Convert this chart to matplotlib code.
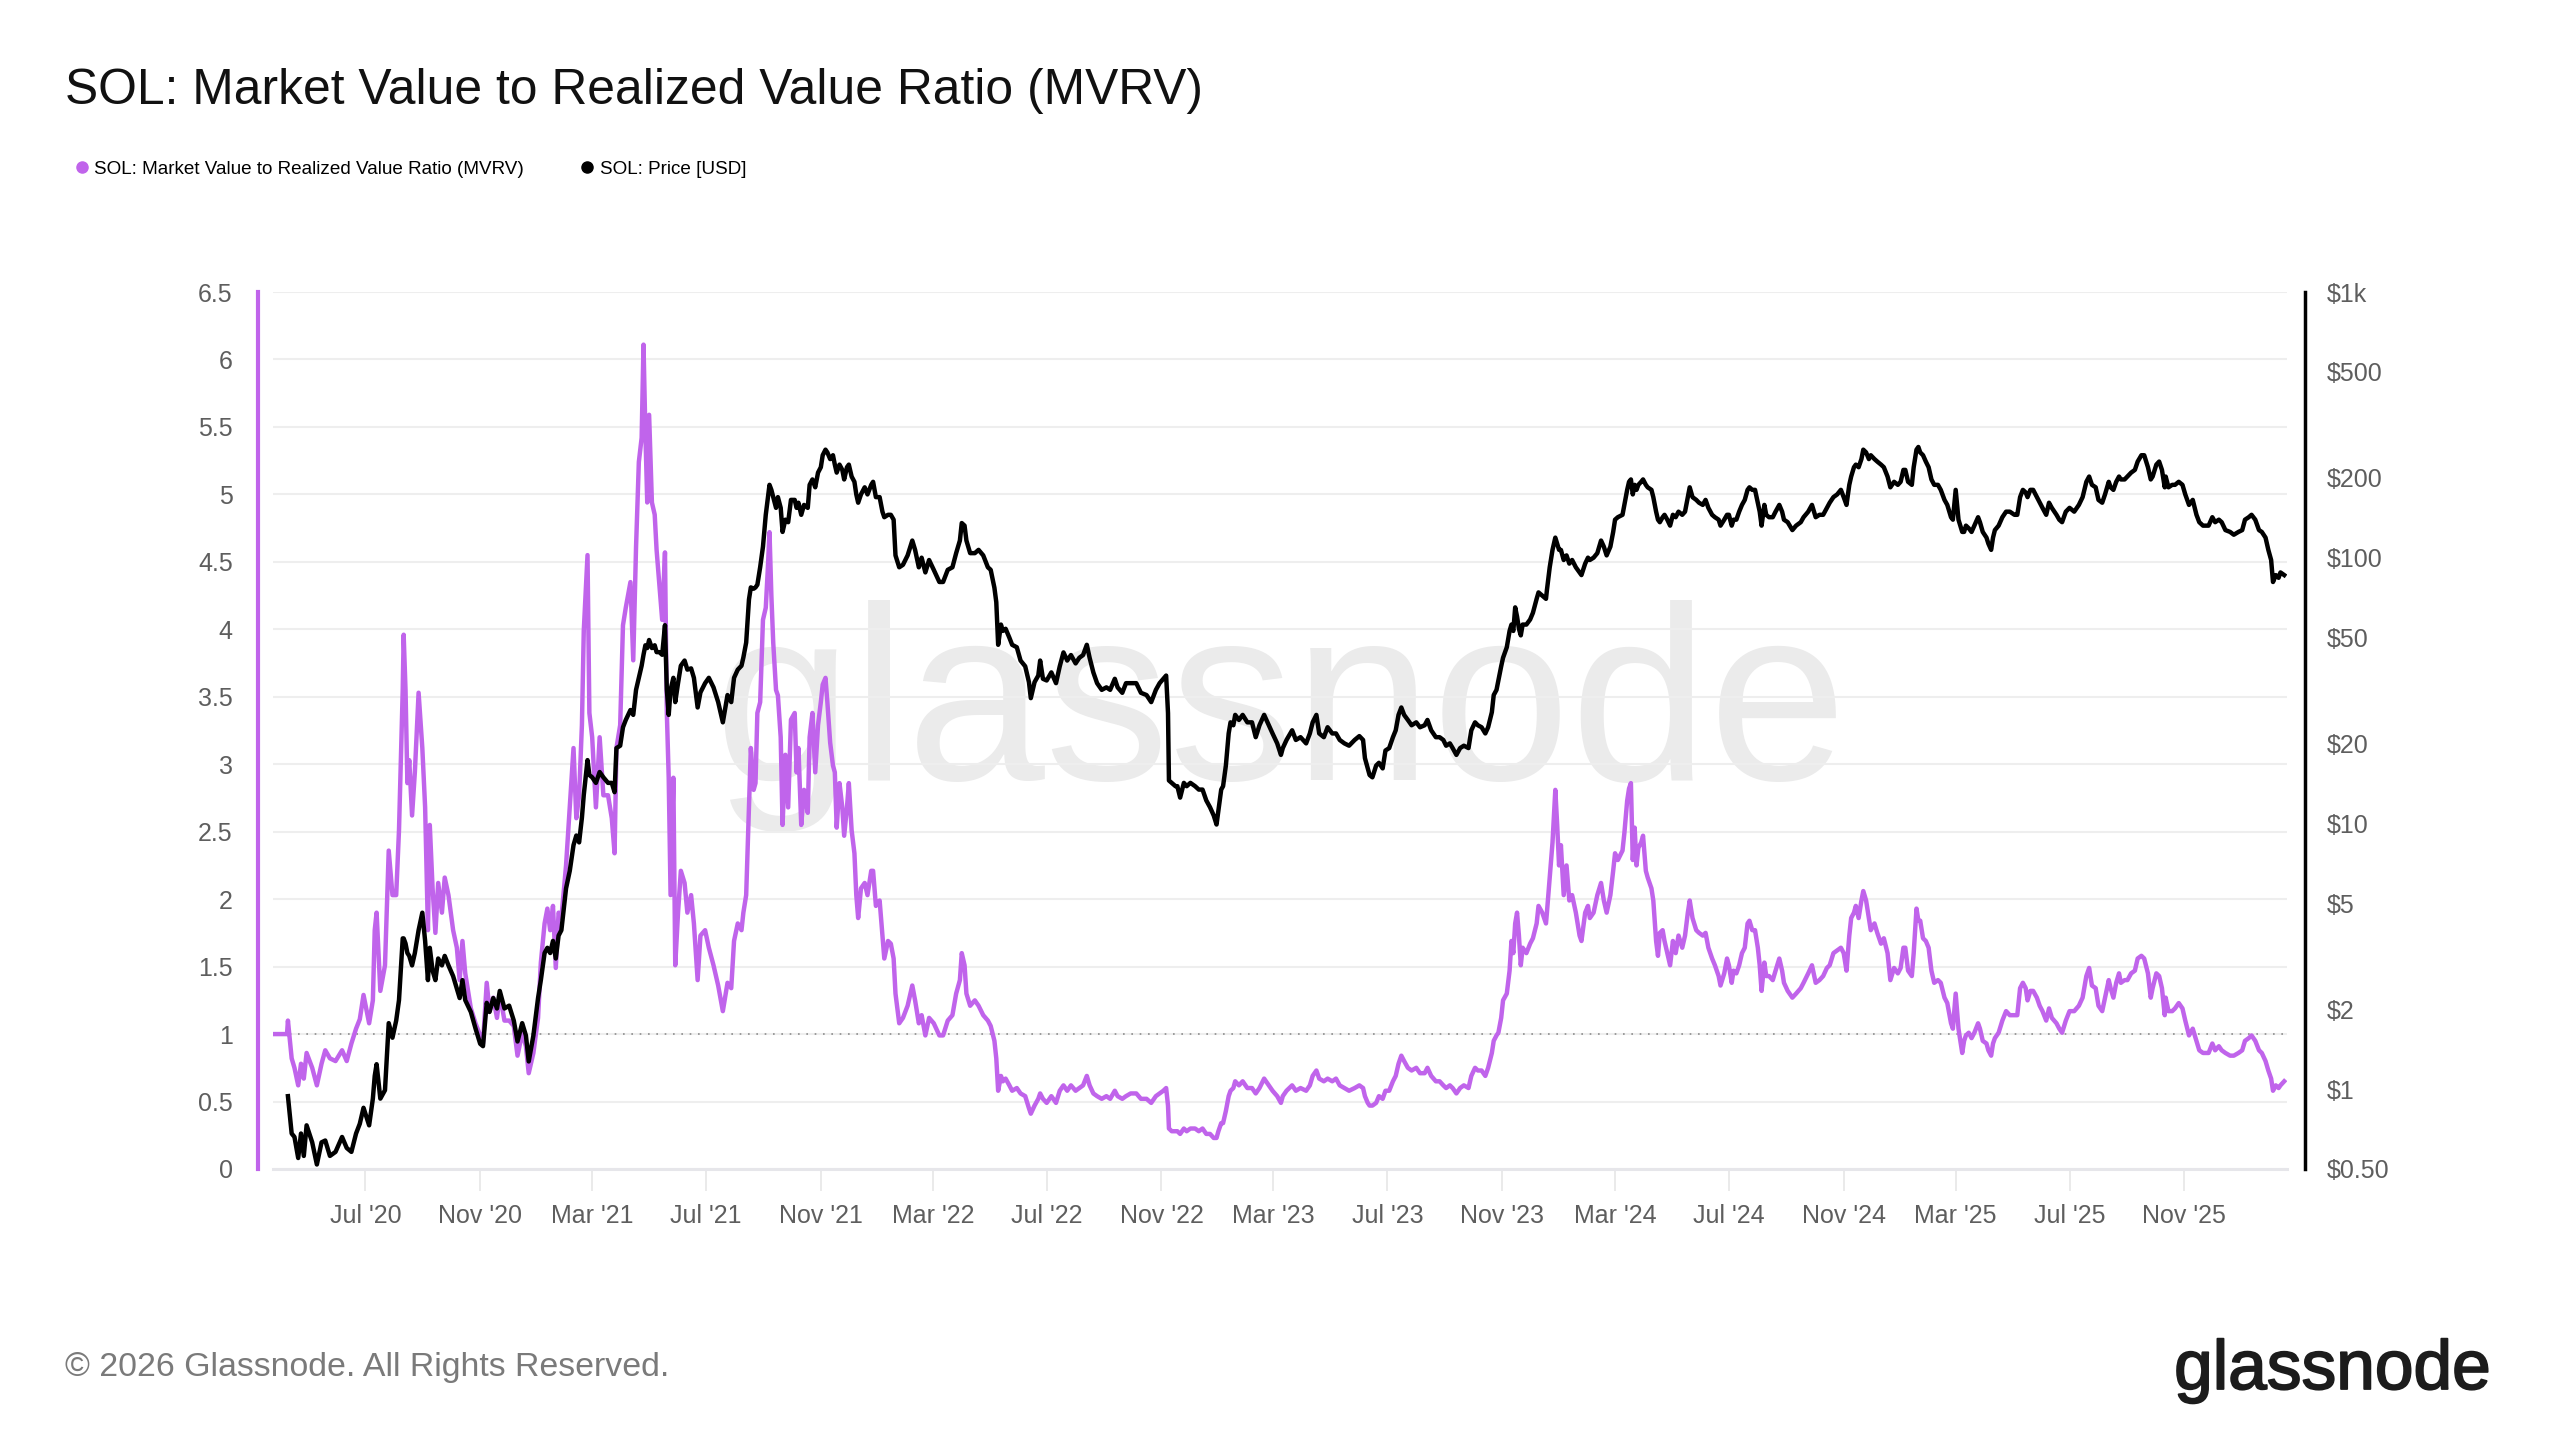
import matplotlib.pyplot as plt
import matplotlib.patheffects as pe
from matplotlib.lines import Line2D
from matplotlib.ticker import NullLocator
import numpy as np
import pandas as pd

plt.rcParams['font.family'] = ['Liberation Sans', 'DejaVu Sans']

nan = np.nan

# dates, MVRV and SOL price [USD], one chunk per year
dates_2020 = [
    "2020-03-24", "2020-04-08", "2020-04-09", "2020-04-13", "2020-04-16", "2020-04-20", "2020-04-23", "2020-04-26", "2020-04-29", "2020-05-05",
    "2020-05-10", "2020-05-15", "2020-05-19", "2020-05-24", "2020-05-30", "2020-06-06", "2020-06-11", "2020-06-16", "2020-06-21", "2020-06-25",
    "2020-06-29", "2020-07-05", "2020-07-09", "2020-07-11", "2020-07-13", "2020-07-17", "2020-07-22", "2020-07-26", "2020-07-30", "2020-08-03",
    "2020-08-06", "2020-08-10", "2020-08-11", "2020-08-13", "2020-08-15", "2020-08-17", "2020-08-20", "2020-08-23", "2020-08-27", "2020-08-31",
    "2020-09-03", "2020-09-06", "2020-09-08", "2020-09-11", "2020-09-14", "2020-09-17", "2020-09-21", "2020-09-24", "2020-09-28", "2020-10-03",
    "2020-10-07", "2020-10-10", "2020-10-13", "2020-10-16", "2020-10-22", "2020-10-27", "2020-11-01", "2020-11-04", "2020-11-08", "2020-11-11",
    "2020-11-15", "2020-11-19", "2020-11-22", "2020-11-27", "2020-12-02", "2020-12-07", "2020-12-11", "2020-12-16", "2020-12-20", "2020-12-23",
    "2020-12-28"]
mvrv_2020 = [
    1.00, 1.00, 1.10, 0.82, 0.75, 0.62, 0.78, 0.67, 0.86, 0.75,
    0.62, 0.78, 0.88, 0.82, 0.80, 0.88, 0.80, 0.93, 1.04, 1.11,
    1.29, 1.08, 1.25, 1.77, 1.90, 1.32, 1.51, 2.36, 2.03, 2.03,
    2.51, 3.55, 3.96, 3.55, 2.86, 3.03, 2.62, 2.94, 3.53, 3.12,
    2.68, 1.77, 2.55, 2.08, 1.75, 2.12, 1.90, 2.16, 2.03, 1.77,
    1.64, 1.40, 1.69, 1.45, 1.19, 1.08, 0.99, 0.93, 1.38, 1.17,
    1.27, 1.12, 1.30, 1.10, 1.10, 1.06, 0.84, 1.01, 0.91, 0.71,
    0.86]
price_2020 = [
    nan, nan, 0.94, 0.68, 0.66, 0.55, 0.68, 0.56, 0.73, 0.63,
    0.52, 0.63, 0.64, 0.56, 0.58, 0.66, 0.60, 0.58, 0.68, 0.74,
    0.85, 0.73, 0.92, 1.12, 1.24, 0.92, 0.99, 1.77, 1.56, 1.81,
    2.16, 3.69, 3.69, 3.53, 3.25, 3.17, 2.92, 3.25, 3.96, 4.61,
    3.61, 2.57, 3.40, 2.79, 2.57, 3.10, 2.92, 3.17, 2.92, 2.66,
    2.39, 2.20, 2.57, 2.16, 1.95, 1.69, 1.48, 1.45, 2.11, 1.95,
    2.20, 2.01, 2.34, 2.01, 2.06, 1.81, 1.51, 1.77, 1.59, 1.27,
    1.59]

dates_2021 = [
    "2021-01-02", "2021-01-05", "2021-01-09", "2021-01-12", "2021-01-15", "2021-01-18", "2021-01-21", "2021-01-24", "2021-01-27", "2021-02-01",
    "2021-02-05", "2021-02-09", "2021-02-12", "2021-02-15", "2021-02-18", "2021-02-20", "2021-02-24", "2021-02-26", "2021-03-01", "2021-03-05",
    "2021-03-09", "2021-03-13", "2021-03-18", "2021-03-22", "2021-03-25", "2021-03-27", "2021-03-31", "2021-04-03", "2021-04-06", "2021-04-11",
    "2021-04-14", "2021-04-17", "2021-04-20", "2021-04-23", "2021-04-25", "2021-04-27", "2021-04-29", "2021-05-01", "2021-05-04", "2021-05-07",
    "2021-05-09", "2021-05-12", "2021-05-15", "2021-05-18", "2021-05-20", "2021-05-22", "2021-05-24", "2021-05-27", "2021-05-29", "2021-06-01",
    "2021-06-04", "2021-06-08", "2021-06-11", "2021-06-15", "2021-06-18", "2021-06-22", "2021-06-25", "2021-06-30", "2021-07-04", "2021-07-09",
    "2021-07-14", "2021-07-19", "2021-07-24", "2021-07-28", "2021-07-31", "2021-08-04", "2021-08-08", "2021-08-10", "2021-08-13", "2021-08-16",
    "2021-08-18", "2021-08-21", "2021-08-23", "2021-08-25", "2021-08-28", "2021-08-31", "2021-09-03", "2021-09-05", "2021-09-07", "2021-09-09",
    "2021-09-11", "2021-09-14", "2021-09-16", "2021-09-19", "2021-09-21", "2021-09-24", "2021-09-27", "2021-09-30", "2021-10-04", "2021-10-06",
    "2021-10-08", "2021-10-11", "2021-10-14", "2021-10-18", "2021-10-20", "2021-10-23", "2021-10-26", "2021-10-29", "2021-11-01", "2021-11-03",
    "2021-11-06", "2021-11-08", "2021-11-11", "2021-11-14", "2021-11-16", "2021-11-18", "2021-11-21", "2021-11-24", "2021-11-26", "2021-11-29",
    "2021-12-01", "2021-12-04", "2021-12-07", "2021-12-09", "2021-12-11", "2021-12-14", "2021-12-18", "2021-12-21", "2021-12-25", "2021-12-27",
    "2021-12-30"]
mvrv_2021 = [
    1.12, 1.53, 1.82, 1.93, 1.77, 1.95, 1.49, 1.90, 1.86, 2.25,
    2.68, 3.12, 2.60, 2.77, 3.29, 3.99, 4.55, 3.38, 3.20, 2.68,
    3.20, 2.77, 2.77, 2.60, 2.34, 3.12, 3.29, 4.03, 4.16, 4.35,
    3.77, 4.61, 5.24, 5.42, 6.11, 5.46, 4.94, 5.59, 4.94, 4.85,
    4.59, 4.33, 4.07, 4.57, 3.38, 2.90, 2.03, 2.90, 1.51, 1.90,
    2.21, 2.12, 1.90, 2.03, 1.82, 1.40, 1.73, 1.77, 1.64, 1.51,
    1.36, 1.17, 1.38, 1.34, 1.69, 1.82, 1.77, 1.90, 2.03, 2.68,
    3.12, 2.81, 2.86, 3.38, 3.46, 4.07, 4.16, 4.42, 4.72, 4.25,
    3.90, 3.55, 3.51, 3.20, 2.55, 3.07, 2.68, 3.33, 3.38, 2.94,
    3.12, 2.55, 2.81, 2.64, 3.20, 3.38, 2.94, 3.29, 3.46, 3.59,
    3.64, 3.46, 3.16, 2.99, 2.94, 2.53, 2.86, 2.68, 2.47, 2.68,
    2.86, 2.51, 2.34, 2.03, 1.86, 2.08, 2.12, 2.03, 2.21, 2.21,
    1.95]
price_2021 = [
    2.20, 2.57, 3.25, 3.40, 3.25, 3.61, 3.10, 3.78, 3.96, 5.69,
    6.63, 8.28, 9.00, 8.48, 10.5, 12.8, 17.3, 15.2, 14.9, 14.2,
    15.6, 14.9, 14.2, 14.2, 13.1, 19.2, 19.6, 23.0, 24.5, 26.7,
    25.6, 31.8, 35.3, 39.2, 43.1, 46.8, 45.7, 49.0, 45.7, 46.8,
    44.1, 44.1, 43.1, 55.7, 31.8, 25.6, 31.8, 35.3, 28.6, 33.7,
    39.2, 41.0, 37.9, 38.3, 35.3, 27.3, 31.1, 33.7, 35.3, 32.5,
    28.6, 24.0, 30.4, 28.6, 35.3, 37.9, 39.2, 42.1, 47.9, 69.6,
    77.3, 76.4, 77.3, 79.1, 92.1, 110, 145, 165, 188, 180,
    169, 154, 169, 154, 125, 139, 136, 165, 165, 154,
    161, 145, 158, 154, 188, 197, 184, 209, 219, 243,
    255, 249, 235, 243, 224, 209, 224, 214, 197, 219,
    224, 202, 193, 173, 161, 173, 184, 173, 188, 193,
    169]

dates_2022 = [
    "2022-01-03", "2022-01-06", "2022-01-08", "2022-01-12", "2022-01-15", "2022-01-18", "2022-01-20", "2022-01-24", "2022-01-28", "2022-02-02",
    "2022-02-07", "2022-02-10", "2022-02-14", "2022-02-17", "2022-02-21", "2022-02-25", "2022-03-02", "2022-03-08", "2022-03-12", "2022-03-17",
    "2022-03-22", "2022-03-26", "2022-03-30", "2022-04-01", "2022-04-04", "2022-04-06", "2022-04-10", "2022-04-15", "2022-04-19", "2022-04-24",
    "2022-04-29", "2022-05-02", "2022-05-06", "2022-05-08", "2022-05-10", "2022-05-13", "2022-05-15", "2022-05-18", "2022-05-22", "2022-05-25",
    "2022-05-30", "2022-06-03", "2022-06-08", "2022-06-12", "2022-06-14", "2022-06-18", "2022-06-22", "2022-06-24", "2022-06-27", "2022-07-01",
    "2022-07-06", "2022-07-11", "2022-07-15", "2022-07-19", "2022-07-23", "2022-07-27", "2022-08-01", "2022-08-05", "2022-08-09", "2022-08-13",
    "2022-08-16", "2022-08-20", "2022-08-24", "2022-08-29", "2022-09-03", "2022-09-07", "2022-09-12", "2022-09-15", "2022-09-20", "2022-09-24",
    "2022-09-29", "2022-10-05", "2022-10-10", "2022-10-16", "2022-10-21", "2022-10-26", "2022-10-30", "2022-11-03", "2022-11-06", "2022-11-08",
    "2022-11-09", "2022-11-12", "2022-11-16", "2022-11-18", "2022-11-21", "2022-11-25", "2022-11-28", "2022-12-02", "2022-12-07", "2022-12-11",
    "2022-12-15", "2022-12-19", "2022-12-23", "2022-12-27", "2022-12-30"]
mvrv_2022 = [
    1.99, 1.73, 1.56, 1.69, 1.67, 1.56, 1.30, 1.08, 1.12, 1.21,
    1.36, 1.25, 1.08, 1.14, 0.99, 1.12, 1.08, 0.99, 0.99, 1.10,
    1.14, 1.30, 1.40, 1.60, 1.51, 1.30, 1.21, 1.25, 1.21, 1.14,
    1.10, 1.06, 0.95, 0.82, 0.58, 0.69, 0.65, 0.67, 0.62, 0.58,
    0.60, 0.56, 0.54, 0.45, 0.41, 0.47, 0.52, 0.56, 0.52, 0.49,
    0.54, 0.49, 0.58, 0.62, 0.58, 0.62, 0.58, 0.60, 0.62, 0.69,
    0.62, 0.56, 0.54, 0.52, 0.54, 0.52, 0.58, 0.54, 0.52, 0.54,
    0.56, 0.56, 0.52, 0.52, 0.49, 0.54, 0.56, 0.58, 0.60, 0.47,
    0.30, 0.28, 0.28, 0.28, 0.26, 0.30, 0.28, 0.30, 0.30, 0.28,
    0.30, 0.26, 0.26, 0.23, 0.23]
price_2022 = [
    169, 149, 142, 145, 145, 139, 102, 92, 94, 102,
    116, 107, 92, 100, 88, 98, 90, 81, 81, 90,
    92, 104, 116, 135, 132, 116, 104, 104, 107, 102,
    92, 90, 77, 68, 47, 56, 53, 54, 50, 47,
    46, 41, 39, 34, 29.6, 34, 36, 41, 35, 34.5,
    37, 33.7, 39, 44, 41, 43, 40, 42, 43, 47,
    42, 37, 33.7, 31.8, 32.5, 31.8, 35, 32.5, 31, 33.7,
    33.7, 33.7, 31, 30.4, 28.6, 31.8, 33.7, 35, 36, 26,
    14.5, 14.2, 13.8, 13.8, 12.5, 14.2, 13.8, 14.2, 13.8, 13.4,
    13.4, 12.2, 11.5, 10.7, 9.9]

dates_2023 = [
    "2023-01-01", "2023-01-04", "2023-01-06", "2023-01-09", "2023-01-12", "2023-01-14", "2023-01-17", "2023-01-19", "2023-01-23", "2023-01-27",
    "2023-02-01", "2023-02-06", "2023-02-10", "2023-02-14", "2023-02-19", "2023-02-24", "2023-02-28", "2023-03-05", "2023-03-09", "2023-03-11",
    "2023-03-15", "2023-03-21", "2023-03-25", "2023-03-30", "2023-04-05", "2023-04-09", "2023-04-12", "2023-04-16", "2023-04-19", "2023-04-24",
    "2023-04-28", "2023-05-03", "2023-05-07", "2023-05-11", "2023-05-16", "2023-05-21", "2023-05-27", "2023-06-01", "2023-06-05", "2023-06-07",
    "2023-06-10", "2023-06-12", "2023-06-15", "2023-06-19", "2023-06-22", "2023-06-26", "2023-06-29", "2023-07-03", "2023-07-07", "2023-07-10",
    "2023-07-13", "2023-07-16", "2023-07-19", "2023-07-23", "2023-07-27", "2023-08-01", "2023-08-05", "2023-08-10", "2023-08-13", "2023-08-17",
    "2023-08-22", "2023-08-26", "2023-08-30", "2023-09-02", "2023-09-06", "2023-09-09", "2023-09-13", "2023-09-17", "2023-09-21", "2023-09-26",
    "2023-09-29", "2023-10-03", "2023-10-06", "2023-10-10", "2023-10-14", "2023-10-17", "2023-10-21", "2023-10-23", "2023-10-26", "2023-10-28",
    "2023-10-31", "2023-11-02", "2023-11-06", "2023-11-09", "2023-11-11", "2023-11-13", "2023-11-15", "2023-11-17", "2023-11-19", "2023-11-21",
    "2023-11-23", "2023-11-27", "2023-12-01", "2023-12-04", "2023-12-08", "2023-12-10", "2023-12-14", "2023-12-18", "2023-12-19", "2023-12-22",
    "2023-12-25", "2023-12-28", "2023-12-30"]
mvrv_2023 = [
    0.28, 0.34, 0.34, 0.43, 0.54, 0.58, 0.60, 0.65, 0.62, 0.65,
    0.60, 0.60, 0.56, 0.60, 0.67, 0.62, 0.58, 0.54, 0.49, 0.54,
    0.58, 0.62, 0.58, 0.60, 0.58, 0.62, 0.69, 0.73, 0.67, 0.65,
    0.67, 0.65, 0.67, 0.62, 0.60, 0.58, 0.60, 0.62, 0.60, 0.54,
    0.49, 0.47, 0.47, 0.49, 0.54, 0.52, 0.58, 0.58, 0.65, 0.69,
    0.78, 0.84, 0.80, 0.75, 0.73, 0.75, 0.71, 0.71, 0.75, 0.69,
    0.65, 0.65, 0.62, 0.60, 0.62, 0.60, 0.56, 0.60, 0.62, 0.60,
    0.69, 0.75, 0.73, 0.73, 0.69, 0.75, 0.86, 0.95, 0.99, 1.01,
    1.12, 1.25, 1.30, 1.47, 1.69, 1.60, 1.82, 1.90, 1.73, 1.51,
    1.64, 1.60, 1.67, 1.71, 1.82, 1.95, 1.90, 1.82, 1.90, 2.16,
    2.42, 2.81, 2.55]
price_2023 = [
    11.2, 13.4, 13.8, 16.5, 21.8, 24.0, 23.4, 25.6, 24.5, 25.6,
    24.0, 24.0, 21.1, 23.4, 25.6, 23.4, 21.8, 20.0, 18.1, 19.2,
    20.6, 22.4, 20.6, 21.1, 20.0, 21.8, 24.0, 25.6, 21.8, 21.1,
    23.0, 21.8, 21.8, 20.6, 20.0, 19.6, 20.6, 21.3, 20.6, 17.6,
    16.1, 15.2, 14.9, 16.5, 16.9, 16.1, 18.8, 19.2, 21.1, 22.4,
    25.6, 27.3, 25.6, 24.5, 23.4, 24.0, 23.0, 23.4, 24.5, 22.4,
    21.1, 21.1, 20.6, 19.6, 20.0, 19.2, 18.1, 19.2, 19.6, 19.2,
    22.4, 24.0, 23.4, 23.0, 21.8, 23.0, 26.2, 30.4, 31.8, 34.5,
    39.0, 42.0, 46.0, 53.0, 56.0, 53.0, 65.0, 60.0, 54.0, 51.0,
    56.0, 56.0, 58.5, 62.0, 70.0, 74.0, 72.0, 70.0, 75.5, 92.0,
    107, 119, 113]

dates_2024 = [
    "2024-01-01", "2024-01-03", "2024-01-06", "2024-01-09", "2024-01-12", "2024-01-15", "2024-01-19", "2024-01-23", "2024-01-25", "2024-01-29",
    "2024-02-01", "2024-02-03", "2024-02-07", "2024-02-11", "2024-02-15", "2024-02-18", "2024-02-21", "2024-02-25", "2024-02-28", "2024-03-01",
    "2024-03-04", "2024-03-09", "2024-03-11", "2024-03-14", "2024-03-16", "2024-03-18", "2024-03-20", "2024-03-22", "2024-03-24", "2024-03-26",
    "2024-03-29", "2024-03-31", "2024-04-03", "2024-04-05", "2024-04-09", "2024-04-11", "2024-04-14", "2024-04-16", "2024-04-18", "2024-04-21",
    "2024-04-23", "2024-04-26", "2024-04-29", "2024-05-02", "2024-05-05", "2024-05-08", "2024-05-12", "2024-05-15", "2024-05-18", "2024-05-20",
    "2024-05-23", "2024-05-27", "2024-05-30", "2024-06-03", "2024-06-06", "2024-06-09", "2024-06-13", "2024-06-16", "2024-06-20", "2024-06-22",
    "2024-06-26", "2024-06-29", "2024-07-01", "2024-07-04", "2024-07-06", "2024-07-09", "2024-07-12", "2024-07-15", "2024-07-18", "2024-07-21",
    "2024-07-23", "2024-07-26", "2024-07-29", "2024-08-01", "2024-08-03", "2024-08-05", "2024-08-08", "2024-08-10", "2024-08-13", "2024-08-17",
    "2024-08-20", "2024-08-24", "2024-08-27", "2024-08-29", "2024-09-02", "2024-09-07", "2024-09-11", "2024-09-16", "2024-09-19", "2024-09-24",
    "2024-09-28", "2024-10-02", "2024-10-06", "2024-10-10", "2024-10-14", "2024-10-17", "2024-10-21", "2024-10-25", "2024-10-29", "2024-11-01",
    "2024-11-04", "2024-11-07", "2024-11-09", "2024-11-12", "2024-11-14", "2024-11-17", "2024-11-20", "2024-11-22", "2024-11-25", "2024-11-28",
    "2024-11-30", "2024-12-04", "2024-12-07", "2024-12-11", "2024-12-14", "2024-12-18", "2024-12-21", "2024-12-25", "2024-12-29"]
mvrv_2024 = [
    2.25, 2.40, 2.03, 2.25, 1.99, 2.03, 1.90, 1.73, 1.69, 1.90,
    1.95, 1.86, 1.90, 2.03, 2.12, 1.99, 1.90, 2.03, 2.21, 2.34,
    2.29, 2.36, 2.49, 2.73, 2.82, 2.86, 2.29, 2.53, 2.25, 2.38,
    2.42, 2.47, 2.21, 2.16, 2.08, 1.99, 1.69, 1.58, 1.75, 1.77,
    1.69, 1.60, 1.51, 1.69, 1.60, 1.73, 1.64, 1.73, 1.90, 1.99,
    1.86, 1.77, 1.75, 1.73, 1.75, 1.64, 1.56, 1.51, 1.43, 1.36,
    1.45, 1.56, 1.51, 1.38, 1.47, 1.45, 1.51, 1.60, 1.64, 1.82,
    1.84, 1.77, 1.77, 1.64, 1.51, 1.32, 1.53, 1.43, 1.43, 1.40,
    1.47, 1.56, 1.47, 1.38, 1.32, 1.27, 1.30, 1.34, 1.38, 1.45,
    1.51, 1.38, 1.40, 1.43, 1.49, 1.51, 1.60, 1.62, 1.64, 1.60,
    1.47, 1.73, 1.86, 1.90, 1.95, 1.86, 1.99, 2.06, 1.99, 1.86,
    1.77, 1.82, 1.75, 1.67, 1.71, 1.60, 1.40, 1.49, 1.45]
price_2024 = [
    107, 107, 98, 102, 95, 98, 92, 88, 86, 95,
    100, 98, 100, 104, 116, 110, 102, 110, 125, 139,
    142, 145, 158, 180, 193, 197, 173, 188, 180, 188,
    193, 197, 188, 184, 180, 169, 149, 139, 136, 142,
    145, 139, 132, 145, 142, 149, 145, 149, 169, 184,
    169, 165, 161, 158, 165, 154, 145, 142, 139, 132,
    139, 145, 145, 132, 139, 139, 149, 158, 165, 180,
    184, 180, 180, 161, 149, 132, 158, 145, 142, 142,
    149, 158, 149, 139, 136, 127, 132, 136, 142, 149,
    158, 142, 145, 145, 154, 161, 169, 173, 180, 169,
    158, 188, 202, 219, 224, 219, 235, 255, 249, 235,
    243, 235, 230, 224, 219, 202, 184, 193, 188]

dates_2025 = [
    "2025-01-01", "2025-01-04", "2025-01-06", "2025-01-09", "2025-01-13", "2025-01-15", "2025-01-18", "2025-01-20", "2025-01-22", "2025-01-25",
    "2025-01-28", "2025-01-31", "2025-02-03", "2025-02-06", "2025-02-10", "2025-02-13", "2025-02-17", "2025-02-20", "2025-02-24", "2025-02-26",
    "2025-03-01", "2025-03-04", "2025-03-08", "2025-03-10", "2025-03-12", "2025-03-15", "2025-03-18", "2025-03-21", "2025-03-25", "2025-03-27",
    "2025-03-30", "2025-04-03", "2025-04-05", "2025-04-08", "2025-04-10", "2025-04-12", "2025-04-16", "2025-04-20", "2025-04-24", "2025-04-28",
    "2025-05-03", "2025-05-06", "2025-05-09", "2025-05-12", "2025-05-15", "2025-05-17", "2025-05-20", "2025-05-23", "2025-05-27", "2025-05-30",
    "2025-06-02", "2025-06-06", "2025-06-09", "2025-06-12", "2025-06-17", "2025-06-20", "2025-06-23", "2025-06-27", "2025-07-01", "2025-07-06",
    "2025-07-11", "2025-07-15", "2025-07-19", "2025-07-22", "2025-07-25", "2025-07-29", "2025-08-01", "2025-08-05", "2025-08-08", "2025-08-12",
    "2025-08-14", "2025-08-17", "2025-08-20", "2025-08-23", "2025-08-25", "2025-08-29", "2025-09-01", "2025-09-05", "2025-09-09", "2025-09-12",
    "2025-09-16", "2025-09-19", "2025-09-23", "2025-09-26", "2025-09-28", "2025-10-02", "2025-10-05", "2025-10-08", "2025-10-11", "2025-10-12",
    "2025-10-15", "2025-10-19", "2025-10-22", "2025-10-26", "2025-10-30", "2025-11-02", "2025-11-06", "2025-11-10", "2025-11-14", "2025-11-17",
    "2025-11-21", "2025-11-24", "2025-11-27", "2025-12-01", "2025-12-04", "2025-12-08", "2025-12-11", "2025-12-15", "2025-12-20", "2025-12-24",
    "2025-12-29"]
mvrv_2025 = [
    1.49, 1.64, 1.64, 1.47, 1.43, 1.60, 1.93, 1.84, 1.84, 1.71,
    1.69, 1.64, 1.47, 1.38, 1.40, 1.38, 1.27, 1.23, 1.08, 1.04,
    1.30, 1.04, 0.86, 0.95, 0.99, 1.01, 0.97, 1.01, 1.08, 1.04,
    0.95, 0.93, 0.88, 0.84, 0.93, 0.97, 1.01, 1.10, 1.17, 1.14,
    1.14, 1.14, 1.34, 1.38, 1.34, 1.25, 1.32, 1.32, 1.27, 1.21,
    1.17, 1.10, 1.19, 1.12, 1.08, 1.04, 1.01, 1.10, 1.17, 1.17,
    1.21, 1.27, 1.43, 1.49, 1.36, 1.34, 1.21, 1.17, 1.27, 1.40,
    1.34, 1.27, 1.38, 1.45, 1.38, 1.40, 1.40, 1.45, 1.47, 1.56,
    1.58, 1.56, 1.45, 1.27, 1.34, 1.45, 1.43, 1.34, 1.14, 1.27,
    1.17, 1.17, 1.19, 1.23, 1.19, 1.10, 0.99, 1.04, 0.95, 0.88,
    0.86, 0.86, 0.86, 0.93, 0.88, 0.91, 0.88, 0.86, 0.84, 0.84,
    0.86]
price_2025 = [
    193, 214, 214, 193, 188, 219, 255, 261, 249, 243,
    230, 219, 197, 188, 188, 180, 165, 158, 142, 139,
    180, 139, 125, 125, 132, 129, 125, 132, 142, 136,
    125, 119, 113, 107, 119, 127, 132, 142, 149, 149,
    145, 145, 169, 180, 176, 169, 180, 180, 169, 161,
    154, 145, 161, 154, 145, 139, 136, 149, 154, 149,
    158, 169, 193, 202, 188, 184, 165, 161, 173, 193,
    184, 180, 193, 202, 197, 197, 202, 209, 214, 230,
    243, 243, 219, 197, 202, 224, 230, 214, 184, 202,
    184, 188, 188, 193, 188, 173, 158, 165, 145, 136,
    132, 132, 132, 142, 136, 139, 136, 127, 125, 122,
    125]

dates_2026 = [
    "2026-01-02", "2026-01-05", "2026-01-09", "2026-01-12", "2026-01-16", "2026-01-20", "2026-01-23", "2026-01-27", "2026-01-30", "2026-02-02",
    "2026-02-04", "2026-02-07", "2026-02-10", "2026-02-12", "2026-02-16"]
mvrv_2026 = [
    0.88, 0.95, 0.97, 0.99, 0.95, 0.88, 0.86, 0.80, 0.73, 0.67,
    0.58, 0.62, 0.60, 0.62, 0.65]
price_2026 = [
    127, 139, 142, 145, 139, 127, 125, 119, 107, 98,
    81, 86, 84, 88, 86]

mvrv_ticks = [0, 0.5, 1, 1.5, 2, 2.5, 3, 3.5, 4, 4.5, 5, 5.5, 6, 6.5]
price_ticks = [0.5, 1, 2, 5, 10, 20, 50, 100, 200, 500, 1000]
price_labels = ["$0.50", "$1", "$2", "$5", "$10", "$20", "$50", "$100", "$200", "$500", "$1k"]

dates = pd.to_datetime(dates_2020 + dates_2021 + dates_2022 + dates_2023 + dates_2024 + dates_2025 + dates_2026)
mvrv = np.array(mvrv_2020 + mvrv_2021 + mvrv_2022 + mvrv_2023 + mvrv_2024 + mvrv_2025 + mvrv_2026)
price = np.array(price_2020 + price_2021 + price_2022 + price_2023 + price_2024 + price_2025 + price_2026, dtype=float)

PURPLE = '#c064eb'
TICK_COLOR = '#5e5e5e'

W, H = 2560, 1440
fig = plt.figure(figsize=(W / 100, H / 100), dpi=100)
ax = fig.add_axes([273 / W, 1 - 1169 / H, (2287 - 273) / W, (1169 - 292) / H])
ax2 = ax.twinx()

# watermark
ax.text(0.5, 0.443, 'glassnode', transform=ax.transAxes, ha='center', va='baseline',
        fontsize=179, color='#ebebeb', zorder=0.1)

ax.plot(dates, mvrv, color=PURPLE, lw=3.2, zorder=3)
ax.axhline(1, color='#8c8c8c', lw=1.2, ls=(0, (1, 4)), zorder=1)
ax2.plot(dates, price, color='black', lw=3.2)

ax.set_xlim(pd.Timestamp('2020-03-24'), pd.Timestamp('2026-02-19'))
ax.set_ylim(0, 6.5)
ax.set_yticks(mvrv_ticks)
ax.set_yticklabels([f'{t:g}' for t in mvrv_ticks])

xt = pd.date_range('2020-07-01', '2025-11-01', freq='4MS')
ax.set_xticks(xt)
ax.set_xticklabels([d.strftime("%b '%y") for d in xt])

ax2.set_yscale('log')
ax2.set_ylim(0.5, 1000)
ax2.set_yticks(price_ticks)
ax2.set_yticklabels(price_labels)
ax2.yaxis.set_minor_locator(NullLocator())

ax.set_axisbelow(True)
ax.grid(axis='y', color='#eeeeee', lw=1.5)

for s in ['top', 'right']:
    ax.spines[s].set_visible(False)
ax.spines['left'].set_color(PURPLE)
ax.spines['left'].set_linewidth(3)
ax.spines['left'].set_position(('outward', 11))
ax.spines['bottom'].set_color('#e6e6ea')
ax.spines['bottom'].set_linewidth(2.2)

for s in ['top', 'left', 'bottom']:
    ax2.spines[s].set_visible(False)
ax2.spines['right'].set_color('black')
ax2.spines['right'].set_linewidth(2.5)
ax2.spines['right'].set_position(('outward', 13))

ax.tick_params(axis='y', length=0, pad=18, labelsize=18, labelcolor=TICK_COLOR)
ax.tick_params(axis='x', length=16, width=1.2, color='#e6e6e6', pad=9, labelsize=18, labelcolor=TICK_COLOR)
ax2.tick_params(axis='y', length=0, pad=16, labelsize=18, labelcolor=TICK_COLOR)

fig.text(65 / W, 1 - 104.5 / H, 'SOL: Market Value to Realized Value Ratio (MVRV)',
         fontsize=35.8, ha='left', va='baseline', color='#111111')

handles = [Line2D([], [], marker='o', ls='none', color=PURPLE, markersize=8),
           Line2D([], [], marker='o', ls='none', color='black', markersize=8)]
fig.legend(handles, ['SOL: Market Value to Realized Value Ratio (MVRV)', 'SOL: Price [USD]'],
           loc='center left', bbox_to_anchor=(75.4 / W, 1 - 169.5 / H), ncol=2, frameon=False,
           fontsize=13.6, handlelength=0.7, handletextpad=0.3, columnspacing=3.0,
           borderpad=0, borderaxespad=0)

fig.text(65 / W, 1 - 1376 / H, '© 2026 Glassnode. All Rights Reserved.',
         fontsize=24.4, color='#7a7a7a', ha='left', va='baseline')
fig.text(2491 / W, 1 - 1389 / H, 'glassnode', fontsize=50, color='#1c1c1c',
         ha='right', va='baseline',
         path_effects=[pe.withStroke(linewidth=1.3, foreground='#1c1c1c')])

fig.savefig('out.png', dpi=100)
